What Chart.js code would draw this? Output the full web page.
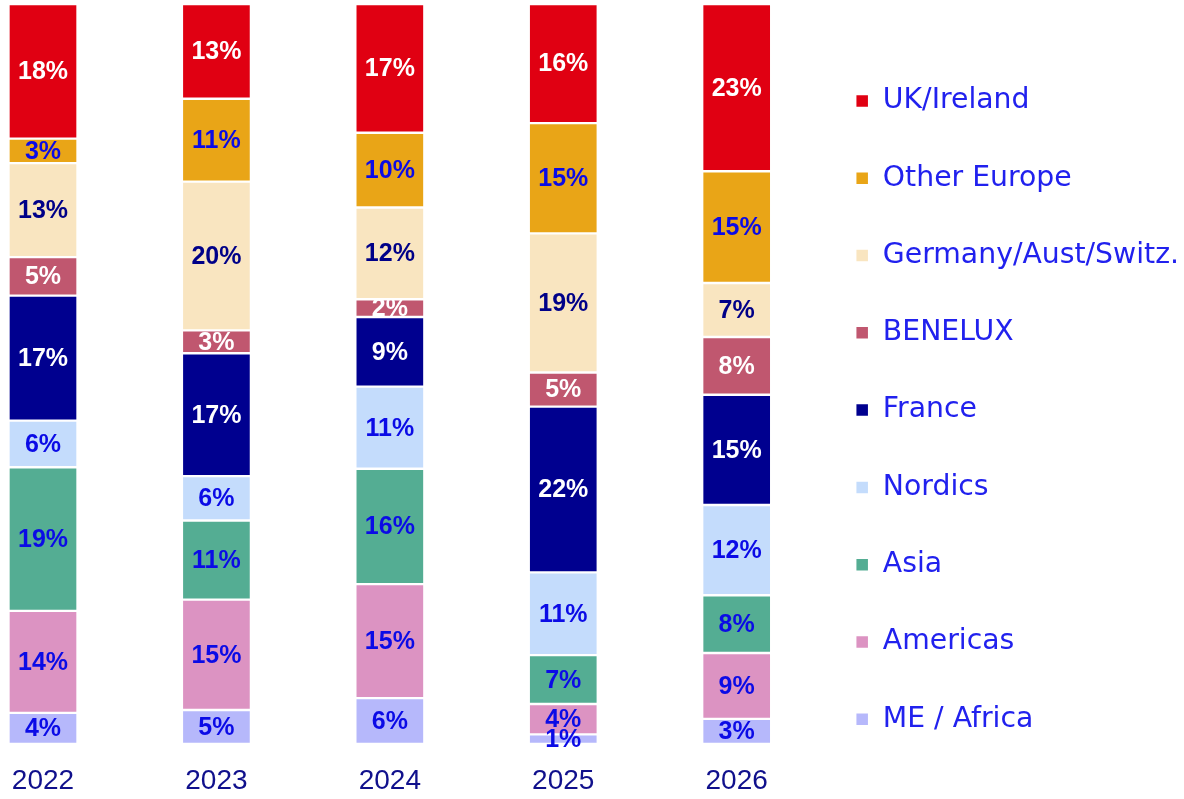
<!DOCTYPE html>
<html>
<head>
<meta charset="utf-8">
<script src="https://cdn.jsdelivr.net/npm/chart.js@4/dist/chart.umd.min.js"></script>
<style>
  html, body { margin: 0; padding: 0; background: #ffffff; }
  #wrap { width: 1184px; height: 799px; position: relative; }
</style>
</head>
<body>
<div id="wrap"><canvas id="c"></canvas></div>
<script>
// Categories (x tick labels)
const years = ['2022', '2023', '2024', '2025', '2026'];

// Series values (% share)
const ukIreland   = [18.2, 12.8, 17.4, 16.1, 22.6];
const otherEurope = [3.3, 11.2, 10.1, 14.9, 15.1];
const germanyAS   = [12.7, 20.1, 12.4, 18.8, 7.3];
const benelux     = [5.2, 3.1, 2.4, 4.6, 7.8];
const france      = [16.9, 16.6, 9.4, 22.4, 14.9];
const nordics     = [6.3, 6.0, 11.1, 11.2, 12.2];
const asia        = [19.4, 10.7, 15.6, 6.6, 7.8];
const americas    = [13.8, 14.9, 15.4, 4.1, 8.9];
const meAfrica    = [4.2, 4.6, 6.2, 1.3, 3.4];

const seriesNames = ['ME / Africa', 'Americas', 'Asia', 'Nordics', 'France', 'BENELUX', 'Germany/Aust/Switz.', 'Other Europe', 'UK/Ireland'];
const seriesData  = [meAfrica, americas, asia, nordics, france, benelux, germanyAS, otherEurope, ukIreland];
const seriesColors = ['#b6b8fb', '#dc93c2', '#54ad93', '#c4dcfc', '#00008f', '#c0576f', '#f9e5c0', '#e9a517', '#e00012'];
const labelColors  = ['#0b0be6', '#0b0be6', '#0b0be6', '#0b0be6', '#ffffff', '#ffffff', '#000088', '#0b0be6', '#ffffff'];

const datasets = seriesNames.map((name, i) => ({
  label: name,
  data: seriesData[i],
  backgroundColor: seriesColors[i],
  borderColor: '#ffffff',
  borderWidth: 1.5,
  borderSkipped: false,
  barThickness: 69,
  clip: false,
  labelColor: labelColors[i]
}));

const segmentLabels = {
  id: 'segmentLabels',
  afterDatasetDraw(chart, args) {
    const ctx = chart.ctx;
    const ds = chart.data.datasets[args.index];
    const meta = args.meta;
    ctx.save();
    ctx.font = 'bold 25px "Liberation Sans", Arial, sans-serif';
    ctx.textAlign = 'center';
    ctx.textBaseline = 'middle';
    ctx.fillStyle = ds.labelColor;
    meta.data.forEach((bar, j) => {
      const v = ds.data[j];
      const p = bar.getProps(['x', 'y', 'base'], true);
      ctx.fillText(Math.round(v) + '%', p.x, (p.y + p.base) / 2 + 1);
    });
    ctx.restore();
  }
};

new Chart(document.getElementById('c'), {
  type: 'bar',
  data: { labels: years, datasets: datasets },
  options: {
    responsive: true,
    maintainAspectRatio: false,
    animation: false,
    layout: { padding: { top: 4, left: 43, right: -5, bottom: 0 } },
    scales: {
      x: {
        stacked: true,
        offset: false,
        grid: { display: false, drawTicks: false },
        border: { display: false },
        ticks: {
          padding: 5,
          color: '#10108c',
          font: { family: '"Liberation Sans", Arial, sans-serif', size: 28, lineHeight: '65px' }
        },
        afterFit(scale) { scale.height = 55; }
      },
      y: {
        stacked: true,
        min: 0,
        max: 100,
        position: 'right',
        grid: { display: false, drawTicks: false },
        border: { display: false },
        ticks: { display: false },
        afterFit(scale) { scale.width = 70; }
      }
    },
    plugins: {
      tooltip: { enabled: false },
      legend: {
        position: 'right',
        reverse: true,
        maxWidth: 700,
        title: { display: true, text: ' ', font: { size: 1 }, padding: 8 },
        labels: {
          boxWidth: 13,
          boxHeight: 13,
          padding: 49,
          color: '#2121ee',
          font: { family: '"DejaVu Sans", sans-serif', size: 28.3 }
        }
      }
    }
  },
  plugins: [segmentLabels]
});
</script>
</body>
</html>
